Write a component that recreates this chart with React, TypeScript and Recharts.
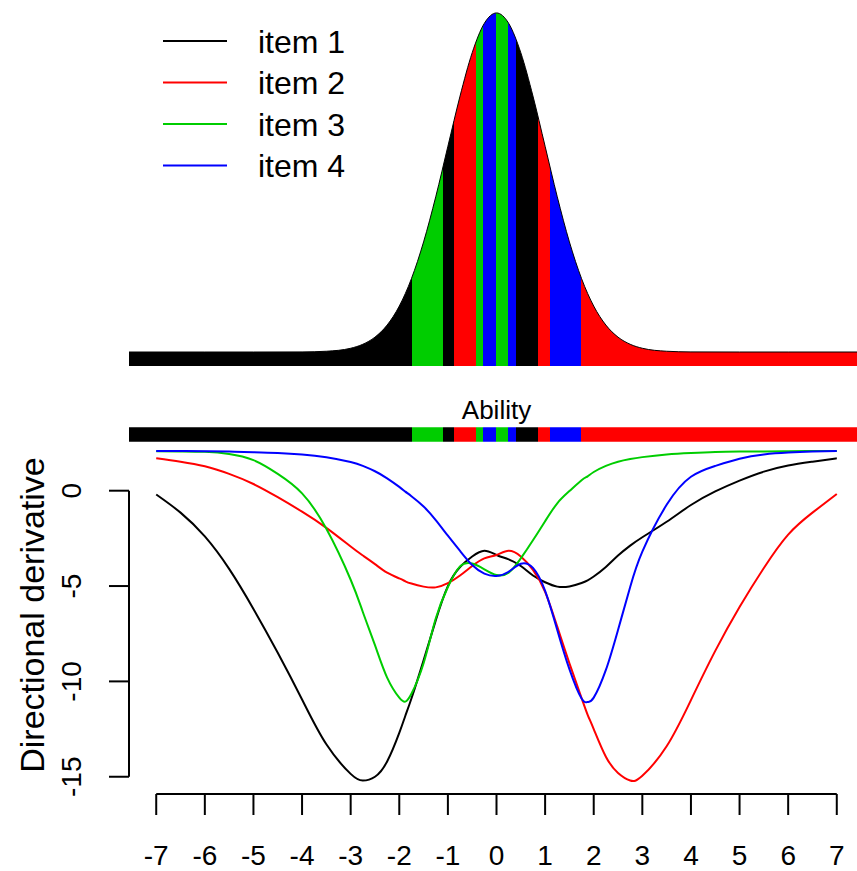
import {
  AreaChart,
  Area,
  ComposedChart,
  Line,
  XAxis,
  YAxis,
  Legend,
  Label,
  ReferenceArea,
  ReferenceLine,
} from 'recharts';

const items = ['item 1', 'item 2', 'item 3', 'item 4'];
const itemColors = ['#000000', '#FF0000', '#00CD00', '#0000FF'];

// ability grid for the directional derivative curves
const theta = [
  -7, -6.5, -6, -5.5, -5, -4.5, -4, -3.5, -3, -2.75, -2.5, -2.25, -2, -1.875, -1.75, -1.5, -1.25, -1, -0.75, -0.5,
  -0.25, 0, 0.25, 0.5, 0.75, 1, 1.25, 1.5, 1.75, 1.875, 2, 2.25, 2.5, 2.75, 3, 3.5, 4, 4.5, 5, 5.5, 6, 6.5, 7,
];
const item1 = [
  -0.2, -1.15, -2.4, -4.1, -6.2, -8.5, -10.95, -13.3, -14.85, -15.2, -15.0, -14.2, -12.7, -11.8, -10.9, -8.9, -6.8,
  -5.0, -4.0, -3.45, -3.15, -3.37, -3.6, -3.95, -4.45, -4.8, -5.03, -5.02, -4.84, -4.7, -4.5, -4.0, -3.4, -2.88, -2.44,
  -1.63, -0.75, -0.04, 0.53, 1.0, 1.32, 1.52, 1.7,
];
const item2 = [
  1.7, 1.52, 1.28, 0.88, 0.35, -0.34, -1.1, -1.95, -2.93, -3.4, -3.85, -4.3, -4.6, -4.75, -4.87, -5.03, -5.07, -4.85,
  -4.45, -3.95, -3.55, -3.37, -3.15, -3.45, -4.15, -5.3, -7.13, -9.05, -10.87, -11.75, -12.5, -13.95, -14.8, -15.2,
  -14.95, -13.4, -10.98, -8.4, -6.1, -4.05, -2.3, -1.15, -0.17,
];
const item3 = [
  2.07, 2.06, 2.04, 1.93, 1.6, 0.88, -0.14, -2.0, -4.67, -6.36, -8.1, -9.8, -10.85, -11.06, -10.65, -9.05, -6.7, -5.05,
  -3.97, -3.82, -4.12, -4.42, -4.3, -3.55, -2.6, -1.6, -0.66, -0.02, 0.55, 0.75, 0.98, 1.3, 1.52, 1.66, 1.76, 1.9,
  1.98, 2.03, 2.05, 2.06, 2.07, 2.08, 2.08,
];
const item4 = [
  2.08, 2.08, 2.07, 2.05, 2.02, 1.98, 1.9, 1.75, 1.5, 1.3, 1.02, 0.65, 0.2, -0.05, -0.29, -0.83, -1.54, -2.36, -3.16,
  -3.9, -4.35, -4.47, -4.25, -3.83, -4.05, -5.25, -7.3, -9.36, -10.9, -11.08, -10.85, -9.4, -7.3, -5.05, -3.2, -0.74,
  0.73, 1.3, 1.68, 1.9, 2.0, 2.05, 2.08,
];
const series = [item1, item2, item3, item4];

// ability density on top
const densX = [
  -7.56, -6, -5, -4, -3.5, -3, -2.75, -2.5, -2.25, -2, -1.75, -1.5, -1.25, -1, -0.75, -0.5, -0.25, 0, 0.25, 0.5, 0.75,
  1, 1.25, 1.5, 1.75, 2, 2.25, 2.5, 2.75, 3, 3.5, 4, 5, 6, 7.56,
];
const densY = [
  0, 0, 0, 0.0001, 0.0009, 0.0044, 0.0091, 0.0175, 0.0317, 0.054, 0.0863, 0.1295, 0.1826, 0.242, 0.3011, 0.3521,
  0.3867, 0.3989, 0.3867, 0.3521, 0.3011, 0.242, 0.1826, 0.1295, 0.0863, 0.054, 0.0317, 0.0175, 0.0091, 0.0044,
  0.0009, 0.0001, 0, 0, 0,
];

// which item dominates each stretch of ability (start of stretch, item index)
const segStart = [-7.56, -1.74, -1.11, -0.87, -0.42, -0.27, -0.02, 0.24, 0.41, 0.85, 1.1, 1.73];
const segItem = [0, 2, 0, 1, 2, 3, 2, 3, 0, 1, 3, 1];

const xTicks = [-7, -6, -5, -4, -3, -2, -1, 0, 1, 2, 3, 4, 5, 6, 7];
const yTicks = [-15, -10, -5, 0];

const X_MIN = -7.56;
const X_MAX = 7.56;
const D_MIN = -0.01647;
const D_MAX = 0.41412;
const Y_MIN = -15.905;
const Y_MAX = 3.445;

const densData = densX.map((x, i) => ({ x, d: densY[i] }));
const lineData = theta.map((x, i) => {
  const row: Record<string, number> = { x };
  items.forEach((name, k) => (row[name] = series[k][i]));
  return row;
});

const segGradient = (id: string) => (
  <linearGradient id={id} x1="0" y1="0" x2="1" y2="0">
    {segStart.flatMap((s, i) => {
      const e = i < segStart.length - 1 ? segStart[i + 1] : X_MAX;
      const c = itemColors[segItem[i]];
      return [
        <stop key={`a${i}`} offset={(s - X_MIN) / (X_MAX - X_MIN)} stopColor={c} />,
        <stop key={`b${i}`} offset={(e - X_MIN) / (X_MAX - X_MIN)} stopColor={c} />,
      ];
    })}
  </linearGradient>
);

const YTick = (props: any) => {
  const { x, y, payload } = props;
  return (
    <text x={x} y={y} transform={`rotate(-90, ${x}, ${y})`} textAnchor="middle" fontSize={28} fill="#000">
      {payload.value}
    </text>
  );
};

const LegendBox = () => (
  <svg width={400} height={190}>
    {items.map((name, i) => {
      const y = 41 + i * 41.5;
      return (
        <g key={name}>
          <line x1={163} x2={227} y1={y} y2={y} stroke={itemColors[i]} strokeWidth={2} />
          <text x={258} y={y + 11.5} fontSize={32} fill="#000">
            {name}
          </text>
        </g>
      );
    })}
  </svg>
);

const App = () => {
  return (
    <div
      style={{
        position: 'absolute',
        left: 0,
        top: 0,
        width: 857,
        height: 871,
        overflow: 'hidden',
        background: '#fff',
        fontFamily: '"Liberation Sans", Arial, sans-serif',
      }}
    >
      <div style={{ position: 'absolute', left: 0, top: 0 }}>
        <AreaChart width={870} height={425} data={densData} margin={{ top: 0, right: 6, bottom: 0, left: 129 }}>
          <defs>{segGradient('densFill')}</defs>
          <XAxis
            dataKey="x"
            type="number"
            domain={[X_MIN, X_MAX]}
            allowDataOverflow
            ticks={xTicks}
            interval={0}
            tick={false}
            tickSize={20}
            stroke="#000"
            tickLine={{ stroke: '#000', strokeWidth: 2 }}
            axisLine={false}
            height={59}
          >
            <Label value="Ability" position="insideBottom" offset={6} fontSize={26} fill="#000" />
          </XAxis>
          <YAxis hide width={0} type="number" domain={[D_MIN, D_MAX]} allowDataOverflow />
          <Area
            type="monotone"
            dataKey="d"
            baseValue={D_MIN}
            stroke="#000"
            strokeWidth={1}
            fill="url(#densFill)"
            fillOpacity={1}
            dot={false}
            activeDot={false}
            isAnimationActive={false}
          />
          <Legend
            layout="vertical"
            align="center"
            verticalAlign="middle"
            wrapperStyle={{ left: 0, top: 0, width: 400, height: 190 }}
            content={() => <LegendBox />}
          />
        </AreaChart>
      </div>
      <div style={{ position: 'absolute', left: 0, top: 425 }}>
        <ComposedChart width={870} height={446} data={lineData} margin={{ top: 0, right: 6, bottom: 0, left: 0 }}>
          <defs>{segGradient('bandFill')}</defs>
          <XAxis
            dataKey="x"
            type="number"
            domain={[X_MIN, X_MAX]}
            allowDataOverflow
            ticks={xTicks}
            interval={0}
            tickSize={21}
            tickMargin={30}
            stroke="#000"
            tickLine={{ stroke: '#000', strokeWidth: 2 }}
            axisLine={false}
            tick={{ fontSize: 28, fill: '#000' }}
            height={77}
          />
          <YAxis
            type="number"
            domain={[Y_MIN, Y_MAX]}
            allowDataOverflow
            ticks={yTicks}
            interval={0}
            width={129}
            tickSize={20}
            tickMargin={28}
            stroke="#000"
            tickLine={{ stroke: '#000', strokeWidth: 2 }}
            axisLine={false}
            tick={<YTick />}
          >
            <Label
              content={() => (
                <text x={44} y={190} transform="rotate(-90, 44, 190)" textAnchor="middle" fontSize={34} fill="#000">
                  Directional derivative
                </text>
              )}
            />
          </YAxis>
          <ReferenceArea
            x1={X_MIN}
            x2={X_MAX}
            y1={2.57}
            y2={3.325}
            fill="url(#bandFill)"
            fillOpacity={1}
            stroke="none"
            ifOverflow="visible"
          />
          <ReferenceLine
            segment={[
              { x: -7, y: Y_MIN },
              { x: 7, y: Y_MIN },
            ]}
            stroke="#000"
            strokeWidth={2}
            ifOverflow="visible"
          />
          <ReferenceLine
            segment={[
              { x: X_MIN, y: -15 },
              { x: X_MIN, y: 0 },
            ]}
            stroke="#000"
            strokeWidth={2}
            ifOverflow="visible"
          />
          {items.map((name, i) => (
            <Line
              key={name}
              dataKey={name}
              type="natural"
              stroke={itemColors[i]}
              strokeWidth={2}
              dot={false}
              activeDot={false}
              isAnimationActive={false}
            />
          ))}
        </ComposedChart>
      </div>
    </div>
  );
};

export default App;
